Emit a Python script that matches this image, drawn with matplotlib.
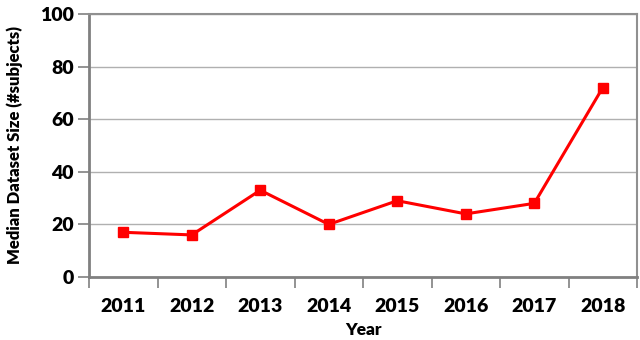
import matplotlib
matplotlib.use("Agg")
import matplotlib.pyplot as plt
import numpy as np

years = ["2011", "2012", "2013", "2014", "2015", "2016", "2017", "2018"]
median_size = [17, 16, 33, 20, 29, 24, 28, 72]
y_ticks = [0, 20, 40, 60, 80, 100]

plt.rcParams['font.family'] = ['Lato', 'DejaVu Sans']

W = 'heavy'
fig = plt.figure(figsize=(6.4, 3.4), dpi=100)
ax = fig.add_axes([89/640, 1-277/340, (637-89)/640, (277-14)/340])

x = np.arange(len(years))
ax.plot(x, median_size, color='#ff0000', lw=2.2, marker='s', ms=7, zorder=3)

ax.set_xlim(-0.5, len(years) - 0.5)
ax.set_ylim(0, 100)
ax.set_yticks(y_ticks)
ax.set_yticklabels([str(v) for v in y_ticks], fontsize=14, fontweight=W)
ax.yaxis.grid(True, color='#b0b0b0', lw=1)
ax.set_axisbelow(True)

ax.set_xticks(np.arange(len(years) + 1) - 0.5)
ax.set_xticklabels([])
ax.set_xticks(x, minor=True)
ax.set_xticklabels(years, minor=True, fontsize=14, fontweight=W)
ax.tick_params(axis='x', which='minor', length=0, pad=15)
ax.tick_params(axis='x', which='major', length=8, color='#808080', width=1.2, direction='out')
ax.tick_params(axis='y', length=8, color='#808080', width=1.2, direction='out', pad=3)

for s in ['left', 'bottom']:
    ax.spines[s].set_color('#808080')
    ax.spines[s].set_linewidth(2)
for s in ['top', 'right']:
    ax.spines[s].set_color('#909090')
    ax.spines[s].set_linewidth(1.5)

ax.set_xlabel('Year', fontsize=12.5, fontweight=W, labelpad=5)
ax.set_ylabel('Median Dataset Size (#subjects)', fontsize=12, fontweight=W, labelpad=12)

fig.savefig('out.png', dpi=100)
